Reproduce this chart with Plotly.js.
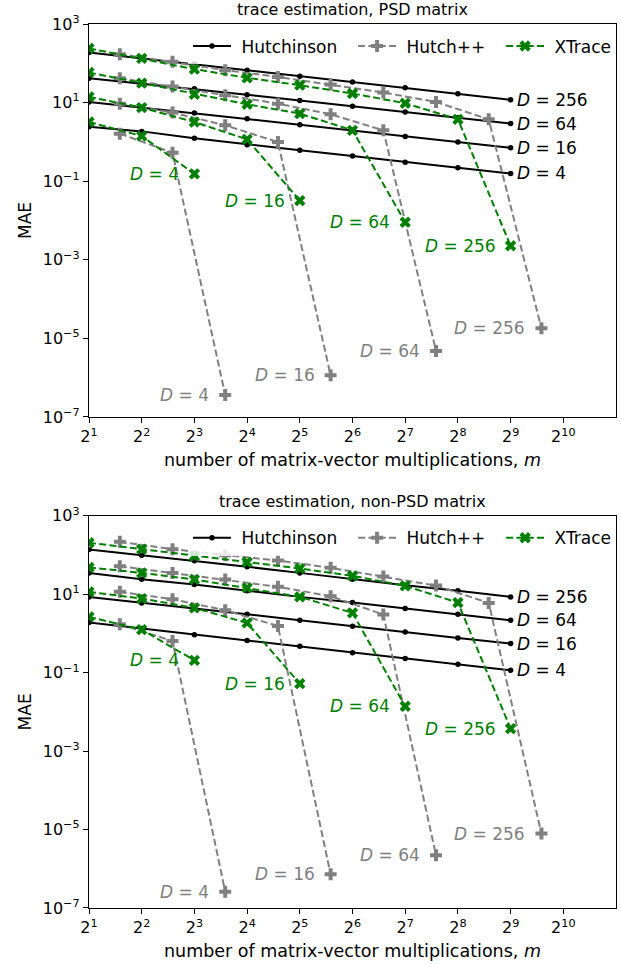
<!DOCTYPE html>
<html>
<head>
<meta charset="utf-8">
<script src="https://cdn.plot.ly/plotly-3.0.1.min.js"></script>
<style>html,body{margin:0;padding:0;background:#fff;}#chart{width:621px;height:964px;}</style>
</head>
<body>
<div id="chart"></div>
<script>
// ---- data ----
const dims = [4, 16, 64, 256];
const mHutch = [2, 4, 8, 16, 32, 64, 128, 256, 512];
const mHpp = [3, 6, 12, 24, 48, 96, 192, 384, 768];
const mXtr = [2, 4, 8, 16, 32, 64, 128, 256, 512];
const xTickVals = [2, 4, 8, 16, 32, 64, 128, 256, 512, 1024];
const xTickText = ['2<sup>1</sup>','2<sup>2</sup>','2<sup>3</sup>','2<sup>4</sup>','2<sup>5</sup>','2<sup>6</sup>','2<sup>7</sup>','2<sup>8</sup>','2<sup>9</sup>','2<sup>10</sup>'];
const yTickVals = [1e-7, 1e-5, 1e-3, 1e-1, 10, 1000];
const yTickText = ['10<sup>−7</sup>','10<sup>−5</sup>','10<sup>−3</sup>','10<sup>−1</sup>','10<sup>1</sup>','10<sup>3</sup>'];
const methodNames = ['Hutchinson', 'Hutch++', 'XTrace'];

// PSD matrix
const psdHutchD4   = [2.44, 1.85, 1.23, 0.85, 0.61, 0.435, 0.305, 0.219, 0.157];
const psdHutchD16  = [10.4, 7.45, 5.4, 3.9, 2.74, 1.97, 1.38, 0.99, 0.71];
const psdHutchD64  = [41.8, 30.5, 22.5, 15.8, 11.3, 8.1, 5.8, 4.1, 2.92];
const psdHutchD256 = [189, 134, 95, 67, 47, 33.5, 23.7, 16.8, 11.8];
const psdHppD4   = [1.62, 0.53, 3.6e-7];
const psdHppD16  = [9.4, 5.56, 2.64, 0.99, 1.15e-6];
const psdHppD64  = [41.8, 25.6, 15.4, 9.4, 5.03, 1.97, 4.8e-6];
const psdHppD256 = [171, 109, 67, 45, 28.8, 18, 10.4, 3.75, 1.8e-5];
const psdXtrD4   = [3.2, 1.41, 0.154];
const psdXtrD16  = [14, 7.45, 3.2, 1.16, 0.032];
const psdXtrD64  = [58.3, 31.2, 16.3, 9.06, 5.24, 1.97, 0.009];
const psdXtrD256 = [239, 133, 71, 42.7, 27.7, 17, 9.6, 3.75, 0.00227];

// non-PSD matrix
const npsdHutchD4   = [1.89, 1.33, 0.93, 0.66, 0.47, 0.32, 0.228, 0.163, 0.115];
const npsdHutchD16  = [8.55, 6.0, 4.31, 3.08, 2.17, 1.52, 1.09, 0.77, 0.55];
const npsdHutchD64  = [35, 24.2, 17.7, 12.2, 8.55, 6.12, 4.31, 3.08, 2.17];
const npsdHutchD256 = [138, 99, 71, 49.9, 35, 24.2, 17, 12.2, 8.55];
const npsdHppD4   = [1.71, 0.64, 2.6e-7];
const npsdHppD16  = [11.5, 7.45, 3.9, 1.55, 7.2e-7];
const npsdHppD64  = [51.9, 35, 23.7, 15.4, 8.9, 3.03, 2.2e-6];
const npsdHppD256 = [217, 141, 99, 72.4, 47, 28.3, 16.6, 6.0, 7.9e-6];
const npsdXtrD4   = [2.64, 1.25, 0.206];
const npsdXtrD16  = [11.5, 7.75, 4.48, 1.85, 0.0525];
const npsdXtrD64  = [48, 35, 23.7, 14.5, 8.55, 3.34, 0.0139];
const npsdXtrD256 = [205, 141, 93, 65.6, 45.2, 29.4, 16.3, 6.12, 0.00374];

const panels = [
  {hutch: [psdHutchD4, psdHutchD16, psdHutchD64, psdHutchD256],
   hpp: [psdHppD4, psdHppD16, psdHppD64, psdHppD256],
   xtr: [psdXtrD4, psdXtrD16, psdXtrD64, psdXtrD256],
   xa: 'x', ya: 'y', legend: 'legend'},
  {hutch: [npsdHutchD4, npsdHutchD16, npsdHutchD64, npsdHutchD256],
   hpp: [npsdHppD4, npsdHppD16, npsdHppD64, npsdHppD256],
   xtr: [npsdXtrD4, npsdXtrD16, npsdXtrD64, npsdXtrD256],
   xa: 'x2', ya: 'y2', legend: 'legend2'}
];

const BLACK = '#000000', GRAY = '#808080', GREEN = '#008000';
const FONT = 'DejaVu Sans, sans-serif';
const DASH = '7px,3.3px';
const LPAD = '\u00a0';
const PAD = '\u00a0\u00a0';

const traces = [];
const annotations = [];

panels.forEach((p) => {
  dims.forEach((D, i) => {
    traces.push({
      x: mHutch.slice(0, p.hutch[i].length), y: p.hutch[i],
      xaxis: p.xa, yaxis: p.ya, legend: p.legend,
      mode: 'lines+markers', name: LPAD + methodNames[0] + PAD, showlegend: i === 0,
      line: {color: BLACK, width: 2},
      marker: {symbol: 'circle', size: 5.5, color: BLACK}
    });
  });
  dims.forEach((D, i) => {
    traces.push({
      x: mHpp.slice(0, p.hpp[i].length), y: p.hpp[i],
      xaxis: p.xa, yaxis: p.ya, legend: p.legend,
      mode: 'lines+markers', name: LPAD + methodNames[1] + PAD, showlegend: i === 0,
      line: {color: GRAY, width: 2, dash: DASH},
      marker: {symbol: 'cross', size: 10, color: GRAY}
    });
  });
  dims.forEach((D, i) => {
    traces.push({
      x: mXtr.slice(0, p.xtr[i].length), y: p.xtr[i],
      xaxis: p.xa, yaxis: p.ya, legend: p.legend,
      mode: 'lines+markers', name: LPAD + methodNames[2], showlegend: i === 0,
      line: {color: GREEN, width: 2, dash: DASH},
      marker: {symbol: 'x', size: 10, color: GREEN}
    });
  });
  // labels
  dims.forEach((D, i) => {
    const h = p.hutch[i], hp = p.hpp[i], xt = p.xtr[i];
    const lab = '<i>D</i> = ' + D;
    annotations.push({xref: p.xa, yref: p.ya, x: Math.log10(mHutch[h.length - 1]), y: Math.log10(h[h.length - 1]),
      text: lab, showarrow: false, xanchor: 'left', yanchor: 'middle', xshift: 4,
      font: {family: FONT, size: 17, color: BLACK}});
    annotations.push({xref: p.xa, yref: p.ya, x: Math.log10(mHpp[hp.length - 1]), y: Math.log10(hp[hp.length - 1]),
      text: lab, showarrow: false, xanchor: 'right', yanchor: 'middle', xshift: -14,
      font: {family: FONT, size: 17, color: GRAY}});
    annotations.push({xref: p.xa, yref: p.ya, x: Math.log10(mXtr[xt.length - 1]), y: Math.log10(xt[xt.length - 1]),
      text: lab, showarrow: false, xanchor: 'right', yanchor: 'middle', xshift: -13,
      font: {family: FONT, size: 17, color: GREEN}});
  });
});

const topDom = [0.5555, 1];
const botDom = [0, 0.4437];

annotations.push({xref: 'paper', yref: 'paper', x: 0.5, y: 1, yanchor: 'bottom', yshift: 3,
  text: 'trace estimation, PSD matrix', showarrow: false, font: {family: FONT, size: 16, color: BLACK}});
annotations.push({xref: 'paper', yref: 'paper', x: 0.5, y: botDom[1], yanchor: 'bottom', yshift: 3,
  text: 'trace estimation, non-PSD matrix', showarrow: false, font: {family: FONT, size: 16, color: BLACK}});

function xAxis(anchor) {
  return {
    type: 'log', range: [Math.log10(2), Math.log10(2048)], anchor: anchor,
    tickvals: xTickVals, ticktext: xTickText, ticks: 'outside', ticklen: 5, tickwidth: 1, tickcolor: BLACK,
    showline: true, linecolor: BLACK, linewidth: 1.2, mirror: true, showgrid: false, zeroline: false,
    tickfont: {family: FONT, size: 16, color: BLACK},
    title: {text: 'number of matrix-vector multiplications, <i>m</i>', font: {family: FONT, size: 17.5, color: BLACK}, standoff: 8}
  };
}
function yAxis(anchor, dom) {
  return {
    type: 'log', range: [-7, 3], anchor: anchor, domain: dom,
    tickvals: yTickVals, ticktext: yTickText, ticks: 'outside', ticklen: 5, tickwidth: 1, tickcolor: BLACK,
    showline: true, linecolor: BLACK, linewidth: 1.2, mirror: true, showgrid: false, zeroline: false,
    tickfont: {family: FONT, size: 16, color: BLACK},
    title: {text: 'MAE', font: {family: FONT, size: 17, color: BLACK}, standoff: 6}
  };
}

const legendCommon = {
  orientation: 'h', x: 1, xanchor: 'right', yanchor: 'top', yref: 'paper',
  bgcolor: 'rgba(255,255,255,0.8)', borderwidth: 0,
  font: {family: FONT, size: 17, color: BLACK}, itemwidth: 38, tracegroupgap: 0
};

const layout = {
  width: 621, height: 964,
  margin: {l: 89, r: 5, t: 24, b: 56},
  paper_bgcolor: '#ffffff', plot_bgcolor: '#ffffff',
  font: {family: FONT, size: 16, color: BLACK},
  xaxis: xAxis('y'),
  yaxis: yAxis('x', topDom),
  xaxis2: xAxis('y2'),
  yaxis2: yAxis('x2', botDom),
  legend: Object.assign({}, legendCommon, {y: 0.995}),
  legend2: Object.assign({}, legendCommon, {y: botDom[1] - 0.005}),
  annotations: annotations,
  showlegend: true
};

Plotly.newPlot('chart', traces, layout, {displayModeBar: false, staticPlot: true});
</script>
</body>
</html>
